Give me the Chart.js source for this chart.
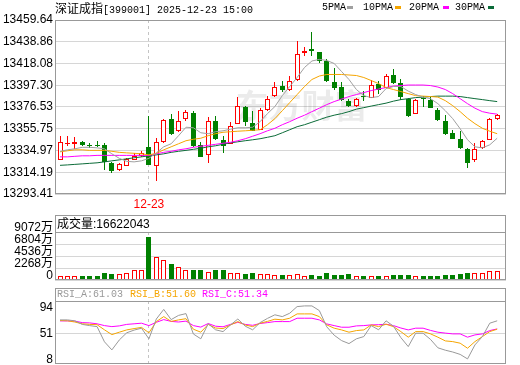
<!DOCTYPE html>
<html>
<head>
<meta charset="utf-8">
<script src="https://cdn.jsdelivr.net/npm/chart.js@4.4.1/dist/chart.umd.min.js"></script>
<style>
  body { margin: 0; width: 520px; height: 365px; background: #fff; position: relative; overflow: hidden; }
  .pane { position: absolute; left: 0; }
  .t { position: absolute; white-space: nowrap; line-height: 14px; color: #000; }
  .cjk { font-family: "Noto Sans CJK SC"; font-size: 12px; }
  .mono { font-family: "Liberation Mono"; font-size: 10px; }
  .sans { font-family: "Liberation Sans"; font-size: 12px; }
  .sw { position: absolute; width: 6px; height: 3px; }
</style>
</head>
<body>

<div class="pane" style="top:0"><canvas id="kline" width="520" height="215"></canvas></div>
<div class="pane" style="top:212px"><canvas id="vol" width="520" height="69"></canvas></div>
<div class="pane" style="top:284px"><canvas id="rsi" width="520" height="81"></canvas></div>

<!-- title + legend -->
<div class="t" style="left:55px;top:1px"><span class="cjk">深证成指</span><span class="mono">[399001] 2025-12-23 15:00</span></div>
<div class="t mono" style="left:322px;top:1px">5PMA</div><div class="sw" style="left:347px;top:6px;background:#a0a0a0"></div>
<div class="t mono" style="left:363px;top:1px">10PMA</div><div class="sw" style="left:395px;top:6px;background:#f5a500"></div>
<div class="t mono" style="left:409px;top:1px">20PMA</div><div class="sw" style="left:443px;top:6px;background:#ff00ff"></div>
<div class="t mono" style="left:455px;top:1px">30PMA</div><div class="sw" style="left:488px;top:6px;background:#0b6b38"></div>

<!-- panel headers -->
<div class="t" style="left:57px;top:216px"><span class="cjk">成交量</span><span class="sans">:16622043</span></div>
<div class="t mono" style="left:57px;top:288px;color:#999">RSI_A:61.03</div>
<div class="t mono" style="left:130px;top:288px;color:#f5a500">RSI_B:51.60</div>
<div class="t mono" style="left:202px;top:288px;color:#ff00ff">RSI_C:51.34</div>

<script>
// =============================
// Data
// =============================
const dateTickIndex = 12;
const dateTickLabel = "12-23";

const candleOpen = [
    13326.03, 13341.09, 13341.09, 13343.01, 13339.94, 13339.75, 13340.42, 13323.44, 13315.96, 13320.46,
    13326.03, 13329.39, 13338.50, 13320.56, 13342.81, 13365.07, 13353.37, 13365.07, 13370.82, 13340.42,
    13330.82, 13363.44, 13344.73, 13341.38, 13360.27, 13376.87, 13361.04, 13354.80, 13373.32, 13386.94,
    13397.01, 13392.50, 13402.09, 13427.70, 13431.54, 13428.66, 13420.03, 13400.85, 13395.57, 13382.62,
    13377.15, 13386.90, 13385.21, 13398.93, 13394.80, 13407.56, 13399.60, 13384.25, 13369.86, 13385.00,
    13383.58, 13373.99, 13363.44, 13351.64, 13346.17, 13336.29, 13326.03, 13337.25, 13345.21, 13365.07
];
const candleHigh = [
    13349.05, 13349.05, 13347.61, 13343.58, 13342.05, 13343.58, 13342.33, 13324.00, 13323.15, 13327.95,
    13332.26, 13334.66, 13367.56, 13347.13, 13365.07, 13370.15, 13372.36, 13373.32, 13372.36, 13343.29,
    13366.60, 13367.95, 13348.38, 13361.81, 13385.98, 13377.35, 13372.36, 13375.62, 13387.42, 13400.17,
    13401.80, 13406.60, 13439.50, 13434.13, 13448.13, 13429.14, 13422.43, 13413.60, 13400.17, 13384.25,
    13385.02, 13391.54, 13402.76, 13401.80, 13408.23, 13412.36, 13403.43, 13385.02, 13384.06, 13386.74,
    13386.17, 13375.62, 13369.19, 13354.80, 13353.17, 13337.83, 13342.05, 13345.21, 13366.03, 13369.86
];
const candleLow = [
    13325.55, 13339.46, 13336.58, 13338.79, 13337.25, 13338.21, 13316.44, 13313.27, 13315.48, 13320.27,
    13325.55, 13328.91, 13321.00, 13306.17, 13342.50, 13350.01, 13352.89, 13363.44, 13338.50, 13328.91,
    13323.44, 13345.21, 13332.45, 13340.90, 13360.08, 13357.97, 13353.37, 13354.32, 13373.03, 13386.46,
    13390.58, 13392.21, 13401.80, 13425.11, 13425.11, 13418.59, 13400.17, 13393.17, 13382.62, 13376.19,
    13376.87, 13381.95, 13385.02, 13389.34, 13394.61, 13398.64, 13383.58, 13366.99, 13369.67, 13376.19,
    13375.43, 13362.77, 13350.01, 13345.69, 13336.29, 13318.64, 13324.40, 13336.58, 13344.73, 13363.72
];
const candleClose = [
    13342.62, 13342.05, 13343.01, 13339.75, 13339.17, 13338.79, 13323.63, 13315.00, 13322.19, 13326.70,
    13329.86, 13332.26, 13321.23, 13343.01, 13364.40, 13350.68, 13362.96, 13371.40, 13338.79, 13329.19,
    13362.77, 13345.88, 13339.46, 13357.97, 13377.35, 13362.00, 13353.84, 13373.99, 13384.25, 13395.76,
    13393.17, 13401.80, 13426.74, 13430.29, 13429.91, 13420.03, 13401.13, 13394.80, 13383.58, 13377.82,
    13384.25, 13385.90, 13397.97, 13393.17, 13406.60, 13399.60, 13386.17, 13368.23, 13383.58, 13384.00,
    13375.62, 13363.72, 13350.97, 13346.17, 13337.25, 13323.44, 13336.29, 13343.58, 13365.07, 13368.52
];

const ma5 = [
    13334.2, 13335.6, 13336.6, 13338.0, 13338.0, 13337.5, 13336.6, 13331.8, 13327.5, 13324.6,
    13324.1, 13325.1, 13327.5, 13332.7, 13338.5, 13341.4, 13349.1, 13357.2, 13356.7, 13351.9,
    13351.0, 13352.9, 13353.8, 13355.3, 13356.7, 13356.7, 13357.2, 13362.5, 13370.2, 13376.9,
    13387.4, 13396.1, 13404.7, 13414.3, 13420.5, 13422.0, 13421.0, 13418.1, 13410.4, 13402.8,
    13393.2, 13387.4, 13385.5, 13386.5, 13394.1, 13396.1, 13396.1, 13391.7, 13388.4, 13386.0,
    13384.5, 13379.7, 13373.0, 13365.4, 13355.8, 13345.2, 13338.5, 13337.5, 13340.4, 13346.7
];
const ma10 = [
    13333.7, 13334.7, 13335.6, 13335.6, 13335.1, 13335.1, 13335.1, 13334.2, 13333.2, 13332.7,
    13332.3, 13331.8, 13330.8, 13332.3, 13335.6, 13338.5, 13341.4, 13344.3, 13345.7, 13346.7,
    13349.1, 13351.0, 13352.4, 13352.9, 13353.4, 13353.8, 13354.3, 13354.8, 13359.6, 13365.4,
    13373.0, 13380.7, 13388.4, 13396.1, 13402.8, 13406.1, 13407.6, 13407.6, 13407.6, 13407.1,
    13406.6, 13404.7, 13401.8, 13398.9, 13395.1, 13393.2, 13391.3, 13389.3, 13387.4, 13386.9,
    13386.5, 13386.0, 13382.6, 13377.8, 13372.1, 13365.8, 13360.6, 13356.2, 13353.4, 13351.0
];
const ma20 = [
    13328.9, 13328.9, 13329.4, 13329.9, 13329.9, 13330.3, 13330.3, 13330.3, 13330.3, 13330.3,
    13330.3, 13330.3, 13330.3, 13331.8, 13333.2, 13334.2, 13335.6, 13336.6, 13338.0, 13339.0,
    13339.9, 13340.9, 13341.9, 13342.8, 13344.3, 13346.2, 13348.6, 13351.0, 13353.8, 13356.2,
    13359.6, 13362.5, 13365.8, 13368.7, 13372.1, 13375.4, 13378.8, 13381.7, 13384.1, 13386.5,
    13388.4, 13390.3, 13392.2, 13393.7, 13395.1, 13396.5, 13397.0, 13397.5, 13397.5, 13397.5,
    13397.0, 13395.6, 13393.2, 13389.3, 13384.5, 13379.7, 13375.4, 13372.1, 13370.6, 13369.7
];
const ma30 = [
    13320.8, 13321.2, 13321.7, 13322.2, 13322.7, 13323.2, 13324.1, 13325.1, 13326.0, 13327.0,
    13328.0, 13328.9, 13329.9, 13330.8, 13331.8, 13333.2, 13334.2, 13335.1, 13336.1, 13337.1,
    13338.5, 13339.5, 13340.9, 13342.3, 13343.3, 13344.3, 13345.2, 13346.2, 13347.6, 13349.1,
    13351.9, 13354.8, 13357.7, 13359.6, 13362.0, 13364.4, 13366.8, 13368.7, 13370.2, 13372.1,
    13374.5, 13375.9, 13377.4, 13378.8, 13380.2, 13382.1, 13383.6, 13384.5, 13385.5, 13386.0,
    13386.5, 13386.9, 13386.9, 13386.9, 13386.5, 13385.5, 13384.5, 13383.6, 13382.6, 13381.7
];

// volume in 万
const volume = [
    756, 756, 756, 813, 813, 813, 1266, 1134, 1040, 1229,
    1890, 1890, 8127, 4404, 3780, 3024, 2400, 1890, 1890, 1890,
    1455, 1890, 1890, 1266, 1266, 1134, 1266, 1077, 1077, 888,
    888, 888, 1077, 662, 888, 756, 1285, 907, 907, 1096,
    813, 813, 850, 718, 850, 888, 888, 888, 662, 718,
    718, 718, 907, 907, 1096, 1285, 1229, 1266, 1644, 1662.2043
];

const rsiA = [
    73.5, 73.5, 72, 66, 64, 62.3, 37, 23.5, 40, 52,
    56.5, 59.7, 42, 75, 91, 74, 81, 84, 50, 42,
    67, 57, 54, 65, 75, 63, 57, 69, 76, 82,
    79, 84.6, 95.7, 96.8, 96.8, 89, 62, 48, 39, 34,
    42, 45.7, 64, 57, 72, 63, 44, 29, 51.3, 51.3,
    41, 27, 23, 20, 16, 8.5, 31.8, 45.7, 68, 72
];
const rsiB = [
    72.5, 72, 70, 67, 66, 65.5, 57, 49, 53, 56.8,
    59, 61, 52, 70.7, 79, 71, 73.5, 75.5, 58, 53,
    66, 60, 59, 65, 70.7, 65, 62.3, 68, 71, 74.7,
    73.5, 76.3, 83.5, 83.5, 83.5, 79, 65.2, 59.7, 56.8, 53,
    55.7, 56.8, 65.2, 62.3, 66.3, 62.3, 54, 44.7, 54, 54,
    50.2, 44.7, 38.5, 37.3, 34.7, 26.3, 37.3, 45.7, 54, 58
];
const rsiC = [
    71.8, 71.8, 71.5, 69, 68.5, 67, 64, 62.3, 63.5, 66,
    67, 68, 64, 69.5, 74, 71, 70, 71.5, 64, 61.5,
    67.5, 63, 62, 66, 69.5, 66, 64.5, 67.5, 69, 70.7,
    70.7, 70.7, 76.3, 76.3, 76.3, 73.5, 66.8, 64, 61.3, 61.3,
    63.5, 64, 65.2, 65.5, 66.3, 64, 60, 56.8, 59.7, 59.7,
    56, 53, 51.5, 50.2, 50.2, 44.7, 48.5, 50.2, 55.7, 58.5
];

const priceTicks = [13293.41, 13314.19, 13334.97, 13355.75, 13376.53, 13397.30, 13418.08, 13438.86, 13459.64];
const volumeTicks = [0, 2268, 4536, 6804, 9072];
const rsiTicks = [8, 51, 94];
const rsiGridTick = 51;

// =============================
// Styling / helpers
// =============================
const UP = "#ff0000";
const DOWN = "#008000";
const FRAME = "#999999";
const GRID = "#d6d6d6";
const X_MIN = -0.675;
const X_MAX = 60.19;
const tickFont = { family: '"Liberation Sans", "Noto Sans CJK SC"', size: 12 };

const idx = candleOpen.map((_, i) => i);
const isUp = idx.map(i => candleClose[i] >= candleOpen[i]);
const pts = arr => arr.map((v, i) => ({ x: i, y: v }));

function xAxis(show) {
    return { type: "linear", min: X_MIN, max: X_MAX, offset: false, display: show };
}

function yFit(scale) {
    scale.width = 55;
    scale.paddingTop = 0;
    scale.paddingBottom = 0;
}

function line(label, values, color, order) {
    return {
        type: "line", label, data: pts(values), borderColor: color,
        borderWidth: 1, pointRadius: 0, tension: 0, order: order || 0
    };
}

// snap bar elements to whole pixels so the 1px outlines stay sharp
const snapPlugin = {
    id: "snap",
    afterDatasetsUpdate(chart) {
        chart.data.datasets.forEach((ds, i) => {
            const meta = chart.getDatasetMeta(i);
            if (meta.type !== "bar") return;
            meta.data.forEach(el => {
                el.x = Math.floor(el.x) + 0.5;
                el.y = Math.round(el.y);
                el.base = Math.round(el.base);
                if (Math.abs(el.base - el.y) < 1) el.y = el.base - 1;
            });
        });
    }
};

// frame, header box, dashed day separator, watermark
const panelPlugin = {
    id: "panel",
    beforeDatasetsDraw(chart, args, opts) {
        const { ctx, chartArea: a, scales } = chart;
        if (opts.watermark) {
            ctx.save();
            ctx.font = 'bold 33px "Noto Sans CJK SC"';
            ctx.fillStyle = "rgba(0,0,0,0.08)";
            ctx.textBaseline = "middle";
            ctx.fillText(opts.watermark, a.left + a.width * 0.4, a.top + a.height * 0.49);
            ctx.restore();
        }
        const x = Math.floor(scales.x.getPixelForValue(dateTickIndex)) + 0.5;
        ctx.save();
        ctx.strokeStyle = "#c4c4c4";
        ctx.lineWidth = 1;
        ctx.setLineDash([3, 3]);
        ctx.beginPath();
        ctx.moveTo(x, a.top);
        ctx.lineTo(x, a.bottom);
        ctx.stroke();
        ctx.restore();
    },
    afterDraw(chart, args, opts) {
        const { ctx, chartArea: a } = chart;
        const l = a.left + 0.5, r = a.right - 0.5, t = a.top + 0.5, b = a.bottom - 0.5;
        ctx.save();
        ctx.strokeStyle = FRAME;
        ctx.lineWidth = 1;
        ctx.strokeRect(l, t, r - l, b - t);
        if (opts.header) ctx.strokeRect(l, t - opts.header, r - l, opts.header);
        ctx.restore();
    }
};

const baseOptions = {
    responsive: false,
    animation: false,
    events: []
};

// -------------------------
// Candles + moving averages
// -------------------------
new Chart(document.getElementById("kline"), {
    type: "bar",
    data: {
        datasets: [
            line("5PMA", ma5, "#a0a0a0"),
            line("10PMA", ma10, "#f5a500"),
            line("20PMA", ma20, "#ff00ff"),
            line("30PMA", ma30, "#0b6b38"),
            {
                label: "body",
                order: 1,
                data: idx.map(i => ({ x: i, y: [candleOpen[i], candleClose[i]] })),
                backgroundColor: isUp.map(u => u ? "#ffffff" : DOWN),
                borderColor: isUp.map(u => u ? UP : DOWN),
                borderWidth: 1,
                borderSkipped: false,
                barThickness: 5,
                grouped: false,
                inflateAmount: 0
            },
            {
                label: "wick",
                order: 2,
                data: idx.map(i => ({ x: i, y: [candleLow[i], candleHigh[i]] })),
                backgroundColor: isUp.map(u => u ? UP : DOWN),
                borderWidth: 0,
                barThickness: 1,
                grouped: false,
                inflateAmount: 0
            }
        ]
    },
    options: {
        ...baseOptions,
        layout: { padding: { left: 0, right: 14, top: 20, bottom: 0 } },
        plugins: { legend: { display: false }, tooltip: { enabled: false }, panel: { watermark: "东方财富" } },
        scales: {
            x: {
                ...xAxis(true),
                grid: { display: false, drawTicks: false },
                border: { display: false },
                afterBuildTicks: s => { s.ticks = [{ value: dateTickIndex }]; },
                afterFit: s => { s.height = 21; s.paddingLeft = 0; s.paddingRight = 0; },
                ticks: {
                    color: UP, font: tickFont, padding: 3, autoSkip: false, maxRotation: 0,
                    callback: () => dateTickLabel
                }
            },
            y: {
                min: priceTicks[0],
                max: priceTicks[priceTicks.length - 1],
                afterBuildTicks: s => { s.ticks = priceTicks.map(v => ({ value: v })); },
                afterFit: yFit,
                grid: { color: GRID, drawTicks: false },
                border: { display: false },
                ticks: { color: "#000", font: tickFont, padding: 2, autoSkip: false, callback: v => v.toFixed(2) }
            }
        }
    },
    plugins: [snapPlugin, panelPlugin]
});

// -------------------------
// Volume
// -------------------------
new Chart(document.getElementById("vol"), {
    type: "bar",
    data: {
        datasets: [{
            label: "成交量",
            data: pts(volume),
            backgroundColor: isUp.map(u => u ? "#ffffff" : DOWN),
            borderColor: isUp.map(u => u ? UP : DOWN),
            borderWidth: 1,
            borderSkipped: false,
            barThickness: 5,
            grouped: false,
            inflateAmount: 0
        }]
    },
    options: {
        ...baseOptions,
        layout: { padding: { left: 0, right: 14, top: 20, bottom: 1 } },
        plugins: { legend: { display: false }, tooltip: { enabled: false }, panel: { header: 17 } },
        scales: {
            x: xAxis(false),
            y: {
                min: volumeTicks[0],
                max: volumeTicks[volumeTicks.length - 1],
                afterBuildTicks: s => { s.ticks = volumeTicks.map(v => ({ value: v })); },
                afterFit: yFit,
                grid: { color: GRID, drawTicks: false },
                border: { display: false },
                ticks: {
                    color: "#000", font: tickFont, padding: 2, autoSkip: false, labelOffset: -4,
                    callback: v => v === 0 ? "0" : v + "万"
                }
            }
        }
    },
    plugins: [snapPlugin, panelPlugin]
});

// -------------------------
// RSI
// -------------------------
new Chart(document.getElementById("rsi"), {
    type: "line",
    data: {
        datasets: [
            line("RSI_A", rsiA, "#999999"),
            line("RSI_B", rsiB, "#f5a500"),
            line("RSI_C", rsiC, "#ff00ff")
        ]
    },
    options: {
        ...baseOptions,
        layout: { padding: { left: 0, right: 14, top: 17, bottom: 1 } },
        plugins: { legend: { display: false }, tooltip: { enabled: false }, panel: { header: 13 } },
        scales: {
            x: xAxis(false),
            y: {
                min: 0,
                max: 105,
                afterBuildTicks: s => { s.ticks = rsiTicks.map(v => ({ value: v })); },
                afterFit: yFit,
                grid: {
                    drawTicks: false,
                    color: c => (c.tick && c.tick.value === rsiGridTick) ? GRID : "rgba(0,0,0,0)"
                },
                border: { display: false },
                ticks: { color: "#000", font: tickFont, padding: 2, autoSkip: false }
            }
        }
    },
    plugins: [panelPlugin]
});
</script>
</body>
</html>
